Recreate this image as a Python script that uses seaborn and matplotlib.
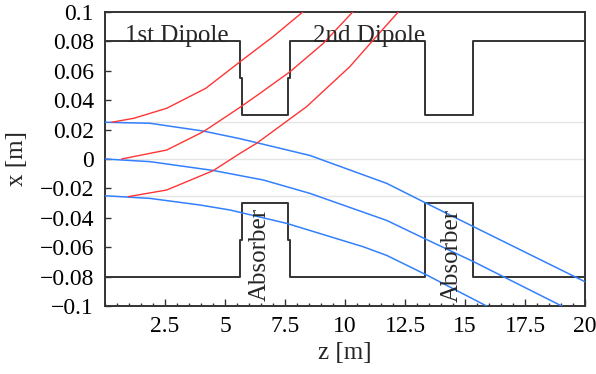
import numpy as np
import pandas as pd
import matplotlib
matplotlib.use("Agg")
import matplotlib.pyplot as plt
from matplotlib.ticker import MultipleLocator, FixedLocator
import seaborn as sns

# Beam aperture (upper and lower walls of the chamber), z in m, x in m
aperture_upper_z = [0, 5.63, 5.63, 5.71, 5.71, 7.63, 7.63, 7.70, 7.70, 13.35, 13.35, 15.35, 15.35, 20]
aperture_upper_x = [0.08, 0.08, 0.055, 0.055, 0.03, 0.03, 0.055, 0.055, 0.08, 0.08, 0.03, 0.03, 0.08, 0.08]
aperture_lower_z = aperture_upper_z
aperture_lower_x = [-v for v in aperture_upper_x]

# Reference orbit levels
reference_levels = [0.025, 0.0, -0.025]

# Deflected (red) trajectories
red_top_z = [0.28, 1.2, 2.57, 4.2, 5.63, 7.0, 8.24, 8.5]
red_top_x = [0.025, 0.0277, 0.0345, 0.0481, 0.0662, 0.0832, 0.100, 0.1035]
red_mid_z = [0.69, 2.57, 4.1, 5.63, 6.46, 7.71, 9.1, 10.32, 10.6]
red_mid_x = [0.0, 0.0061, 0.0186, 0.0352, 0.0447, 0.0594, 0.0787, 0.100, 0.105]
red_bot_z = [0.97, 2.57, 4.51, 5.63, 6.32, 8.4, 10.2, 11.18, 12.22, 12.5]
red_bot_x = [-0.0256, -0.0211, -0.0079, 0.0039, 0.0107, 0.0356, 0.0628, 0.081, 0.100, 0.105]

# Primary (blue) trajectories
blue_top_z = [0, 1.875, 4.1, 5.63, 8.54, 11.74, 13.4, 15.35, 20]
blue_top_x = [0.025, 0.0243, 0.019, 0.0138, 0.0024, -0.0166, -0.0302, -0.046, -0.0835]
blue_mid_z = [0, 1.875, 4.51, 6.6, 8.54, 11.74, 13.4, 15.35, 19.03, 19.6]
blue_mid_x = [0.0, -0.0018, -0.0078, -0.0143, -0.0234, -0.0418, -0.0548, -0.0698, -0.100, -0.105]
blue_bot_z = [0, 1.875, 3.96, 5.21, 7.57, 10.76, 11.74, 13.4, 15.9, 16.5]
blue_bot_x = [-0.025, -0.0268, -0.0313, -0.0347, -0.0438, -0.0597, -0.0656, -0.0789, -0.100, -0.105]

x_tick_values = [2.5, 5, 7.5, 10, 12.5, 15, 17.5, 20]
x_tick_labels = ["2.5", "5", "7.5", "10", "12.5", "15", "17.5", "20"]
y_tick_values = [0.1, 0.08, 0.06, 0.04, 0.02, 0.0, -0.02, -0.04, -0.06, -0.08, -0.1]
y_tick_labels = ["0.1", "0.08", "0.06", "0.04", "0.02", "0",
                 "\u22120.02", "\u22120.04", "\u22120.06", "\u22120.08", "\u22120.1"]

sns.set_theme(style="ticks")
plt.rcParams["font.family"] = ["Liberation Serif", "DejaVu Serif"]
plt.rcParams["axes.unicode_minus"] = True

fig = plt.figure(figsize=(5.96, 3.74), dpi=100)
ax = fig.add_axes([105 / 596, 1 - 306 / 374, 480 / 596, 294 / 374])

edge = "#333333"
for lvl in reference_levels:
    ax.axhline(lvl, color="#e4e4e4", lw=1.0, zorder=0)

def trace(z, x, color, lw, zorder):
    df = pd.DataFrame({"z": z, "x": x})
    sns.lineplot(data=df, x="z", y="x", ax=ax, color=color, lw=lw,
                 sort=False, estimator=None, zorder=zorder)

trace(aperture_upper_z, aperture_upper_x, edge, 1.4, 2)
trace(aperture_lower_z, aperture_lower_x, edge, 1.4, 2)

blue = "#3380ff"
red = "#ff3535"
for z, x in [(blue_top_z, blue_top_x), (blue_mid_z, blue_mid_x), (blue_bot_z, blue_bot_x)]:
    trace(z, x, blue, 1.1, 3)
for z, x in [(red_top_z, red_top_x), (red_mid_z, red_mid_x), (red_bot_z, red_bot_x)]:
    trace(z, x, red, 1.0, 4)

ax.set_xlim(0, 20)
ax.set_ylim(-0.1, 0.1)

ax.xaxis.set_major_locator(FixedLocator(x_tick_values))
ax.set_xticklabels(x_tick_labels)
ax.xaxis.set_minor_locator(MultipleLocator(0.5))
ax.yaxis.set_major_locator(FixedLocator(y_tick_values))
ax.set_yticklabels(y_tick_labels)

ax.tick_params(axis="both", which="both", direction="in", colors=edge,
               labelcolor="black", labelsize=17, width=1.0)
ax.tick_params(axis="x", which="major", length=5, pad=7)
ax.tick_params(axis="x", which="minor", length=2.5)
ax.tick_params(axis="y", which="major", length=4, pad=8)
ax.tick_params(top=False, right=False)

for s in ax.spines.values():
    s.set_visible(True)
    s.set_color(edge)
    s.set_linewidth(1.4)

ax.set_xlabel("z [m]", fontsize=18, labelpad=4)
ax.set_ylabel("x [m]", fontsize=18, labelpad=8)

ax.text(0.83, 0.0795, "1st Dipole", fontsize=18, ha="left", va="baseline", zorder=5)
ax.text(8.67, 0.0795, "2nd Dipole", fontsize=18, ha="left", va="baseline", zorder=5)
ax.text(6.46, -0.0646, "Absorber", fontsize=18, rotation=90, ha="center", va="center", zorder=5)
ax.text(14.45, -0.0655, "Absorber", fontsize=18, rotation=90, ha="center", va="center", zorder=5)

fig.savefig("out.png", dpi=100)
